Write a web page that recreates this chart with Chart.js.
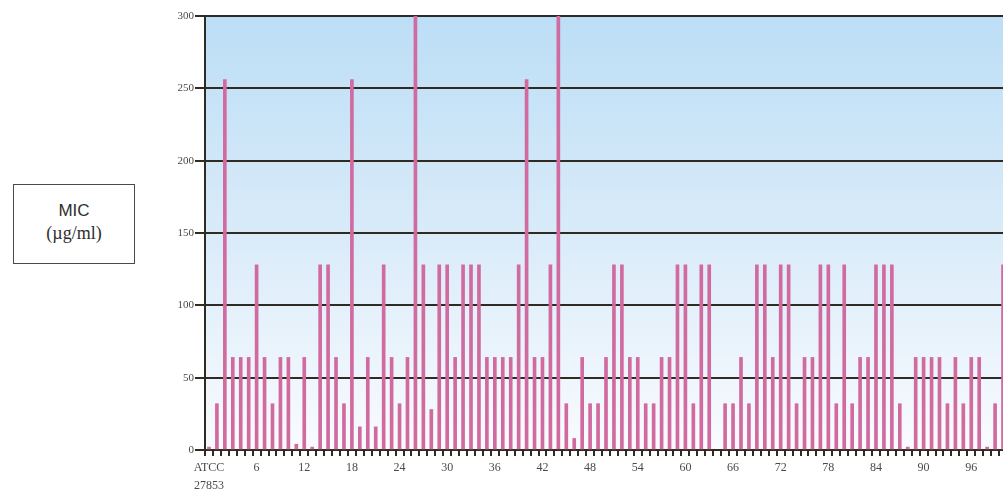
<!DOCTYPE html>
<html>
<head>
<meta charset="utf-8">
<title>MIC by isolate</title>
<script src="https://cdn.jsdelivr.net/npm/chart.js@4.4.1/dist/chart.umd.min.js"></script>
<style>
  html, body { margin: 0; padding: 0; width: 1003px; height: 498px; overflow: hidden; background: #ffffff; }
  #wrap { position: absolute; left: 0; top: 0; width: 1007px; height: 498px; }
  #mic {
    position: absolute; left: 13px; top: 184px; width: 120px; height: 78px;
    border: 1.5px solid #4a4a4a; background: #ffffff; color: #2e2e2e; text-align: center;
  }
  #mic .t1 { font-family: "Liberation Sans", Arial, sans-serif; font-size: 17px; margin-top: 16px; line-height: 19px; }
  #mic .t2 { font-family: "Liberation Serif", "Times New Roman", serif; font-size: 18px; line-height: 22px; margin-top: 2px; }
</style>
</head>
<body>
<div id="wrap"><canvas id="chart" width="1007" height="498"></canvas></div>
<div id="mic"><div class="t1">MIC</div><div class="t2">(µg/ml)</div></div>
<script>
// Isolates: reference strain first, then clinical isolates 1..100
const categories = [
  'ATCC 27853', '1', '2', '3', '4', '5', '6', '7', '8', '9',
  '10', '11', '12', '13', '14', '15', '16', '17', '18', '19',
  '20', '21', '22', '23', '24', '25', '26', '27', '28', '29',
  '30', '31', '32', '33', '34', '35', '36', '37', '38', '39',
  '40', '41', '42', '43', '44', '45', '46', '47', '48', '49',
  '50', '51', '52', '53', '54', '55', '56', '57', '58', '59',
  '60', '61', '62', '63', '64', '65', '66', '67', '68', '69',
  '70', '71', '72', '73', '74', '75', '76', '77', '78', '79',
  '80', '81', '82', '83', '84', '85', '86', '87', '88', '89',
  '90', '91', '92', '93', '94', '95', '96', '97', '98', '99',
  '100'
];

// MIC (µg/ml) per isolate; values above 256 are plotted at the top of the scale
const micValues = [
  2, 32, 256, 64, 64, 64, 128, 64, 32, 64,
  64, 4, 64, 2, 128, 128, 64, 32, 256, 16,
  64, 16, 128, 64, 32, 64, 300, 128, 28, 128,
  128, 64, 128, 128, 128, 64, 64, 64, 64, 128,
  256, 64, 64, 128, 300, 32, 8, 64, 32, 32,
  64, 128, 128, 64, 64, 32, 32, 64, 64, 128,
  128, 32, 128, 128, null, 32, 32, 64, 32, 128,
  128, 64, 128, 128, 32, 64, 64, 128, 128, 32,
  128, 32, 64, 64, 128, 128, 128, 32, 2, 64,
  64, 64, 64, 32, 64, 32, 64, 64, 2, 32,
  128
];

// Categories that carry a label on the x axis
const labeledCategories = ['ATCC 27853', '6', '12', '18', '24', '30', '36', '42', '48', '54', '60', '66', '72', '78', '84', '90', '96'];

// Value axis ticks
const yTicks = [0, 50, 100, 150, 200, 250, 300];

const axisColor = '#2f2b22';
const serif = '"Liberation Serif", "Times New Roman", serif';

// Pale blue wash behind the plot area, fading to white at the baseline
const plotBackground = {
  id: 'plotBackground',
  beforeDraw(chart) {
    const { ctx, chartArea: a } = chart;
    const g = ctx.createLinearGradient(0, a.top, 0, a.bottom);
    g.addColorStop(0, '#bcdef6');
    g.addColorStop(0.5, '#d9ebf9');
    g.addColorStop(1, '#f9fbfe');
    ctx.save();
    ctx.fillStyle = g;
    ctx.fillRect(a.left, a.top, a.right - a.left, a.bottom - a.top);
    ctx.restore();
  }
};

new Chart(document.getElementById('chart'), {
  type: 'bar',
  data: {
    labels: categories,
    datasets: [{
      data: micValues,
      backgroundColor: '#d16a9f',
      borderWidth: 0,
      barThickness: 3
    }]
  },
  options: {
    responsive: false,
    animation: false,
    layout: { padding: { top: 16, left: 0, right: 0, bottom: 0 } },
    plugins: { legend: { display: false }, tooltip: { enabled: false } },
    scales: {
      x: {
        grid: { drawOnChartArea: false, drawTicks: true, tickLength: 6, color: axisColor, lineWidth: 2 },
        border: { color: axisColor, width: 2 },
        ticks: {
          autoSkip: false, maxRotation: 0, minRotation: 0, padding: 3,
          color: '#4a4a4a',
          font: { family: serif, size: 12, lineHeight: 1.5 },
          callback(value) {
            const name = categories[value];
            if (!labeledCategories.includes(name)) return '';
            return name.includes(' ') ? name.split(' ') : name;
          }
        },
        afterFit(scale) { scale.height = 48; }
      },
      y: {
        min: yTicks[0],
        max: yTicks[yTicks.length - 1],
        afterBuildTicks(scale) { scale.ticks = yTicks.map(v => ({ value: v })); },
        grid: { color: axisColor, lineWidth: 2, tickLength: 10 },
        border: { color: axisColor, width: 2 },
        ticks: { color: '#4a4a4a', padding: 1, font: { family: serif, size: 11 } },
        afterFit(scale) { scale.width = 205; }
      }
    }
  },
  plugins: [plotBackground]
});
</script>
</body>
</html>
